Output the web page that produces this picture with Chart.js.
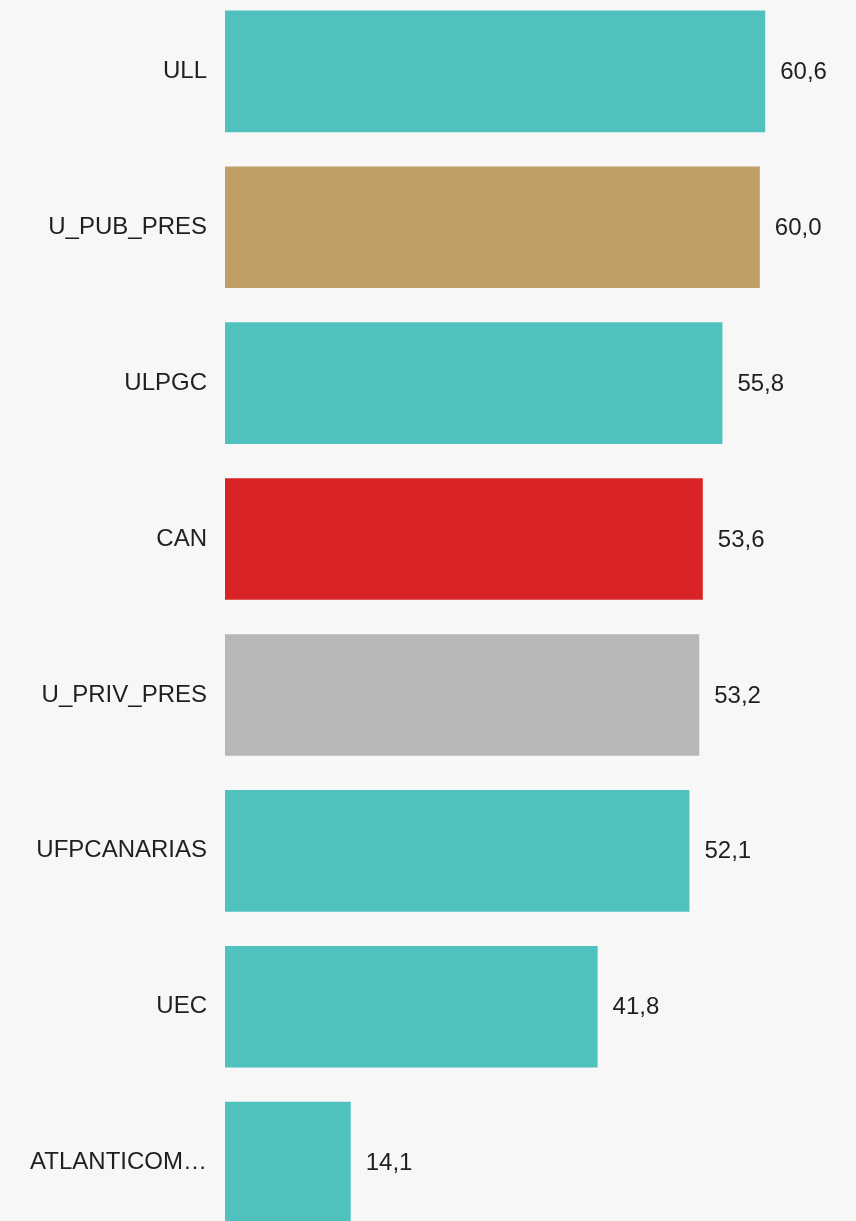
<!DOCTYPE html>
<html>
<head>
<meta charset="utf-8">
<script src="https://cdn.jsdelivr.net/npm/chart.js@4"></script>
<style>
    html, body {
        margin: 0;
        padding: 0;
        background: #f7f7f7;
        overflow: hidden;
        width: 856px;
        height: 1221px;
    }
    #barChart {
        position: absolute;
        left: 0;
        top: -39px;
    }
</style>
</head>
<body>
<canvas id="barChart" width="856" height="1312"></canvas>
<script>
// datos
const labels = ["ULL", "U_PUB_PRES", "ULPGC", "CAN", "U_PRIV_PRES", "UFPCANARIAS", "UEC", "ATLANTICOM\u2026"];
const values = [60.6, 60.0, 55.8, 53.6, 53.2, 52.1, 41.8, 14.1];
const barColors = ["#4fc2bf", "#bf9e68", "#4fc2bf", "#da2326", "#b7b7b7", "#4fc2bf", "#4fc2bf", "#4fc2bf"];

const FONT = "'Liberation Sans', Arial, sans-serif";

// etiqueta del valor al final de cada barra
const valueLabels = {
    id: "valueLabels",
    afterDatasetsDraw(chart) {
        const ctx = chart.ctx;
        const meta = chart.getDatasetMeta(0);
        ctx.save();
        ctx.font = "24px " + FONT;
        ctx.fillStyle = "#1f1f1f";
        ctx.textAlign = "left";
        ctx.textBaseline = "middle";
        meta.data.forEach((bar, i) => {
            const txt = values[i].toFixed(1).replace(".", ",");
            ctx.fillText(txt, bar.x + 15, bar.y + 1);
        });
        ctx.restore();
    }
};

const ctx = document.getElementById("barChart").getContext("2d");

new Chart(ctx, {
    type: "bar",
    data: {
        labels,
        datasets: [
            {
                data: values,
                backgroundColor: barColors,
                borderWidth: 0,
                categoryPercentage: 1,
                barPercentage: 0.78
            }
        ]
    },
    plugins: [valueLabels],
    options: {
        indexAxis: "y",
        responsive: false,
        animation: false,
        devicePixelRatio: 1,
        layout: {
            padding: { left: 0, right: 7, top: 0, bottom: 0 }
        },
        plugins: {
            legend: { display: false },
            tooltip: { enabled: false }
        },
        scales: {
            x: {
                display: false,
                min: 0,
                max: 70
            },
            y: {
                afterFit(scale) {
                    scale.width = 225;
                },
                grid: { display: false, drawTicks: false },
                border: { display: false },
                ticks: {
                    padding: 18,
                    color: "#1f1f1f",
                    font: { size: 24, family: FONT }
                }
            }
        }
    }
});
</script>
</body>
</html>
